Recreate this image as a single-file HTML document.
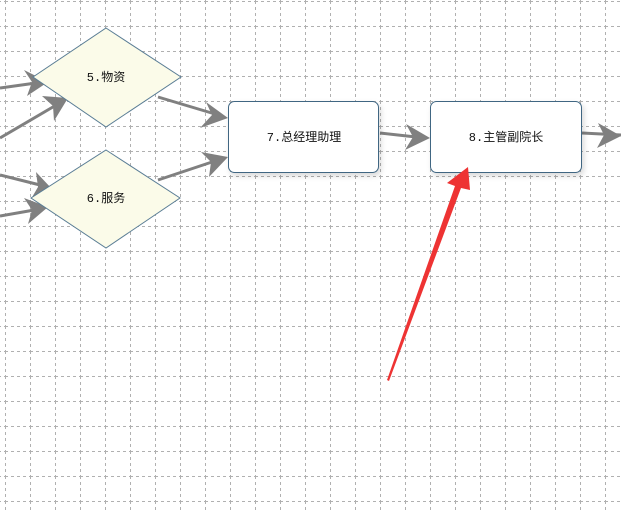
<!DOCTYPE html>
<html><head><meta charset="utf-8"><style>
html,body{margin:0;padding:0;background:#fff;}
body{width:621px;height:512px;overflow:hidden;position:relative;}
svg{position:absolute;left:0;top:0;}
text{font-family:"Liberation Mono","Noto Sans CJK SC",monospace;font-size:12px;fill:#111;}
</style></head><body>
<svg width="621" height="512" viewBox="0 0 621 512">
<defs>
<pattern id="gx" x="5" y="1" width="25" height="25" patternUnits="userSpaceOnUse">
<line x1="0.5" y1="0" x2="0.5" y2="25" stroke="#b0b0b0" stroke-dasharray="3,3"/>
<line x1="0" y1="0.5" x2="25" y2="0.5" stroke="#b0b0b0" stroke-dasharray="3,3"/>
</pattern>
<filter id="sh" x="-10%" y="-10%" width="130%" height="140%"><feDropShadow dx="2" dy="3" stdDeviation="3" flood-color="#000" flood-opacity="0.15"/></filter>
</defs>
<rect width="621" height="512" fill="url(#gx)"/>
<g stroke="#808080" stroke-width="3" fill="none">
<line x1="0" y1="88" x2="36" y2="83"/>
<line x1="0" y1="138" x2="58" y2="104"/>
<line x1="0" y1="175" x2="44" y2="186"/>
<line x1="0" y1="216" x2="40" y2="209"/>
<line x1="158" y1="97" x2="215" y2="114"/>
<line x1="158" y1="180" x2="215" y2="161"/>
<line x1="380" y1="133" x2="416" y2="137"/>
<line x1="582" y1="133" x2="621" y2="135"/>
</g>
<g fill="#808080">
<path d="M48,82 L24,70 L32,82 L27,96 Z"/>
<path d="M68,98 L42,96 L53,106 L54,121 Z"/>
<path d="M52,189 L36,172 L38,187 L31,199 Z"/>
<path d="M48,207 L24,198 L32,210 L28,224 Z"/>
<path d="M228,118 L206,102 L212,115 L200,128 Z" />
<path d="M228,157 L201,152 L211,162 L209,177 Z"/>
<path d="M430,138 L406,124 L413,137 L405,150 Z"/>
<path d="M621,136 L598,123 L604,135 L597,148 Z"/>
</g>
<polygon points="106,28 181,77 106,127 33,77" fill="#fbfbe9" stroke="#5a7d95" stroke-width="1"/>
<polygon points="106,150 180,198 106,248 31,198" fill="#fbfbe9" stroke="#5a7d95" stroke-width="1"/>
<text x="106" y="81" text-anchor="middle">5.物资</text>
<text x="106" y="202" text-anchor="middle">6.服务</text>
<rect x="228.5" y="101.5" width="150" height="71" rx="6" fill="#fff" stroke="#3f6682" filter="url(#sh)"/>
<rect x="430.5" y="101.5" width="151" height="71" rx="6" fill="#fff" stroke="#3f6682" filter="url(#sh)"/>
<text x="304" y="141" text-anchor="middle">7.总经理助理</text>
<text x="506" y="141" text-anchor="middle">8.主管副院长</text>
<polygon points="468,167 470,190 461,188 389,381 387,380 455,186 447,183" fill="#ee3333"/>
</svg>
</body></html>
